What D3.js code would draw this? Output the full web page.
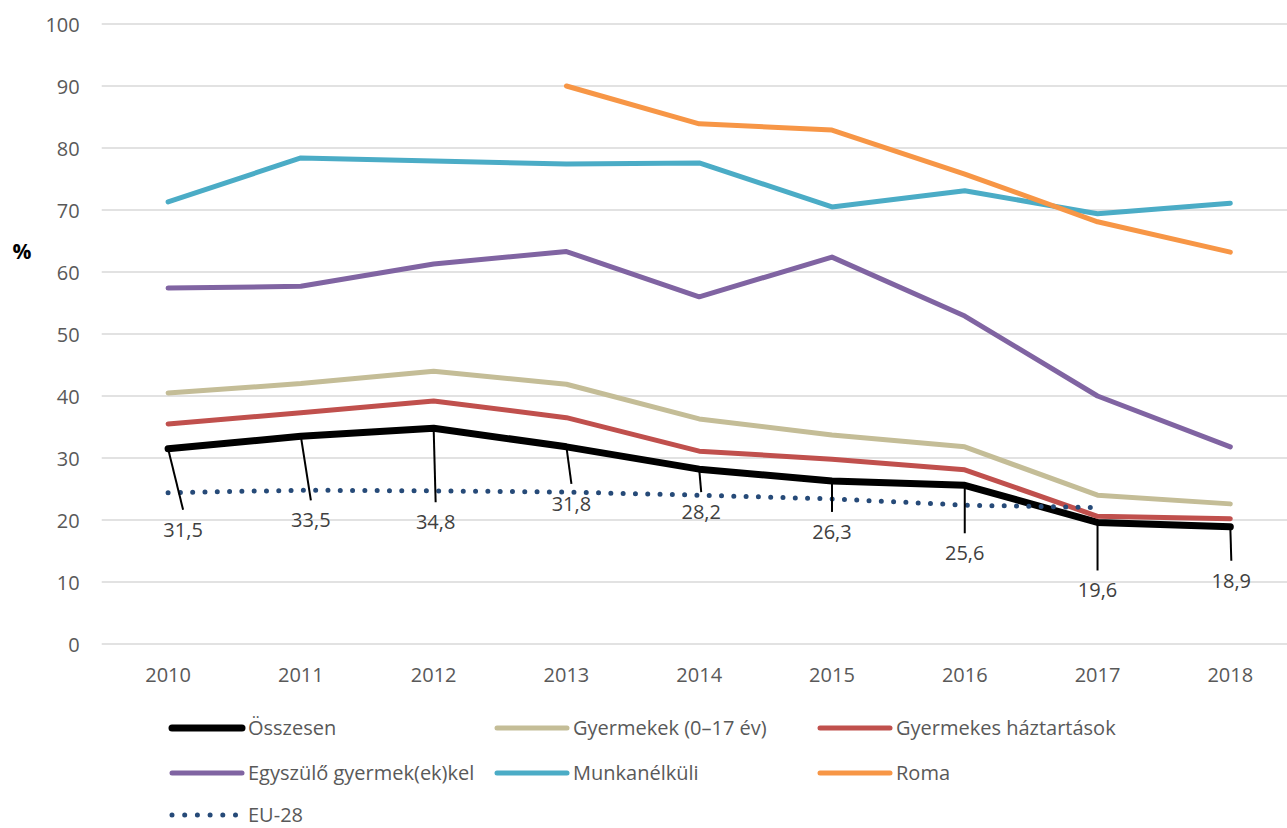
<!DOCTYPE html>
<html>
<head>
<meta charset="utf-8">
<script src="https://cdn.jsdelivr.net/npm/d3@7"></script>
<style>
  body { margin: 0; background: #fff; }
  text { font-family: "Open Sans", "Noto Sans", sans-serif; }
</style>
</head>
<body>
<div id="wrapper"></div>
<script>
// data
const years = ["2010", "2011", "2012", "2013", "2014", "2015", "2016", "2017", "2018"];
const yTicks = [0, 10, 20, 30, 40, 50, 60, 70, 80, 90, 100];

const osszesen = [31.5, 33.5, 34.8, 31.8, 28.2, 26.3, 25.6, 19.6, 18.9];
const gyermekek = [40.5, 42.0, 44.0, 41.9, 36.3, 33.7, 31.8, 24.0, 22.6];
const gyermekesHaztartasok = [35.5, 37.3, 39.2, 36.5, 31.1, 29.8, 28.1, 20.6, 20.2];
const egyszulo = [57.4, 57.7, 61.3, 63.3, 56.0, 62.4, 52.9, 40.0, 31.8];
const munkanelkuli = [71.3, 78.4, 77.9, 77.4, 77.6, 70.5, 73.1, 69.4, 71.1];
const roma = [null, null, null, 90.0, 83.9, 82.9, 75.8, 68.1, 63.2];
const eu28 = [24.4, 24.8, 24.7, 24.5, 24.0, 23.4, 22.4, 22.0, null];

const seriesNames = [
    "Összesen", "Gyermekek (0–17 év)", "Gyermekes háztartások",
    "Egyszülő gyermek(ek)kel", "Munkanélküli", "Roma", "EU-28"
];
const seriesValues = [osszesen, gyermekek, gyermekesHaztartasok, egyszulo, munkanelkuli, roma, eu28];

// styles
const seriesColors = ["#000000", "#c4bd97", "#c0504d", "#8064a2", "#4bacc6", "#f79646", "#264a78"];
const seriesWidths = [7, 5, 5, 5, 5, 5, 5];

// leader offsets for the Összesen labels (px from the point)
const labelOffsets = [[15, 61], [10, 64], [2, 74], [5, 37], [2, 23], [0, 31], [0, 48], [0, 48], [1, 34]];

function drawChart() {
    const dimensions = {
        width: 1287,
        height: 828,
        left: 101.7,
        right: 1296.7,
        top: 24,
        bottom: 644
    };

    const svg = d3.select("#wrapper")
        .append("svg")
        .attr("width", dimensions.width)
        .attr("height", dimensions.height);

    // scales
    const xScale = d3.scaleBand()
        .domain(years)
        .range([dimensions.left, dimensions.right])
        .padding(0);
    const xCenter = y => xScale(y) + xScale.bandwidth() / 2;

    const yScale = d3.scaleLinear()
        .domain([0, 100])
        .range([dimensions.bottom, dimensions.top]);

    // gridlines
    svg.append("g")
        .selectAll("line")
        .data(yTicks)
        .join("line")
        .attr("x1", dimensions.left)
        .attr("x2", dimensions.width)
        .attr("y1", d => yScale(d))
        .attr("y2", d => yScale(d))
        .attr("stroke", "#d9d9d9")
        .attr("stroke-width", 1.5);

    // y axis
    const yAxis = svg.append("g")
        .attr("transform", `translate(${dimensions.left - 22},0)`)
        .call(d3.axisLeft(yScale).tickValues(yTicks).tickSize(0).tickPadding(0));
    yAxis.select(".domain").remove();
    yAxis.selectAll("text")
        .attr("fill", "#595959")
        .style("font-size", "20px")
        .attr("dy", "0.35em");

    svg.append("text")
        .attr("x", 22)
        .attr("y", 252)
        .attr("text-anchor", "middle")
        .attr("dy", "0.35em")
        .style("font-size", "21px")
        .style("font-weight", "bold")
        .attr("fill", "#000")
        .text("%");

    // x axis
    const xAxis = svg.append("g")
        .attr("transform", `translate(0,${dimensions.bottom + 31})`)
        .call(d3.axisBottom(xScale).tickSize(0).tickPadding(0));
    xAxis.select(".domain").remove();
    xAxis.selectAll("text")
        .attr("fill", "#595959")
        .style("font-size", "20px")
        .attr("dy", "0.35em");

    // lines
    const lineGenerator = d3.line()
        .defined(d => d.value !== null)
        .x(d => xCenter(d.year))
        .y(d => yScale(d.value));

    const series = seriesNames.map((name, i) => ({
        name,
        color: seriesColors[i],
        width: seriesWidths[i],
        dotted: name === "EU-28",
        points: years.map((year, j) => ({ year, value: seriesValues[i][j] }))
    }));

    svg.append("g")
        .selectAll("path")
        .data(series)
        .join("path")
        .attr("d", d => lineGenerator(d.points))
        .attr("fill", "none")
        .attr("stroke", d => d.color)
        .attr("stroke-width", d => d.width)
        .attr("stroke-linecap", "round")
        .attr("stroke-linejoin", "round")
        .attr("stroke-dasharray", d => d.dotted ? "0,12.3" : null);

    // data labels for Összesen
    const labels = svg.append("g")
        .selectAll("g")
        .data(osszesen.map((value, i) => ({ year: years[i], value, off: labelOffsets[i] })))
        .join("g");

    labels.append("line")
        .attr("x1", d => xCenter(d.year))
        .attr("y1", d => yScale(d.value))
        .attr("x2", d => xCenter(d.year) + d.off[0])
        .attr("y2", d => yScale(d.value) + d.off[1])
        .attr("stroke", "#000")
        .attr("stroke-width", 2);

    labels.append("text")
        .attr("x", d => xCenter(d.year) + d.off[0])
        .attr("y", d => yScale(d.value) + d.off[1] + 20)
        .attr("text-anchor", "middle")
        .attr("dy", "0.35em")
        .attr("fill", "#404040")
        .style("font-size", "20px")
        .text(d => d3.format(".1f")(d.value).replace(".", ","));

    // legend
    const legendCols = [170, 495, 818];
    const legendRows = [728, 773, 815];

    const legend = svg.append("g")
        .selectAll("g")
        .data(series)
        .join("g")
        .attr("transform", (d, i) => `translate(${legendCols[i % 3]},${legendRows[Math.floor(i / 3)]})`);

    legend.append("line")
        .attr("x1", 2)
        .attr("x2", d => d.dotted ? 68 : 72)
        .attr("stroke", d => d.color)
        .attr("stroke-width", d => d.width)
        .attr("stroke-linecap", "round")
        .attr("stroke-dasharray", d => d.dotted ? "0,12.7" : null);

    legend.append("text")
        .attr("x", 78)
        .attr("dy", "0.35em")
        .attr("fill", "#595959")
        .style("font-size", "20px")
        .text(d => d.name);
}

drawChart();
</script>
</body>
</html>
